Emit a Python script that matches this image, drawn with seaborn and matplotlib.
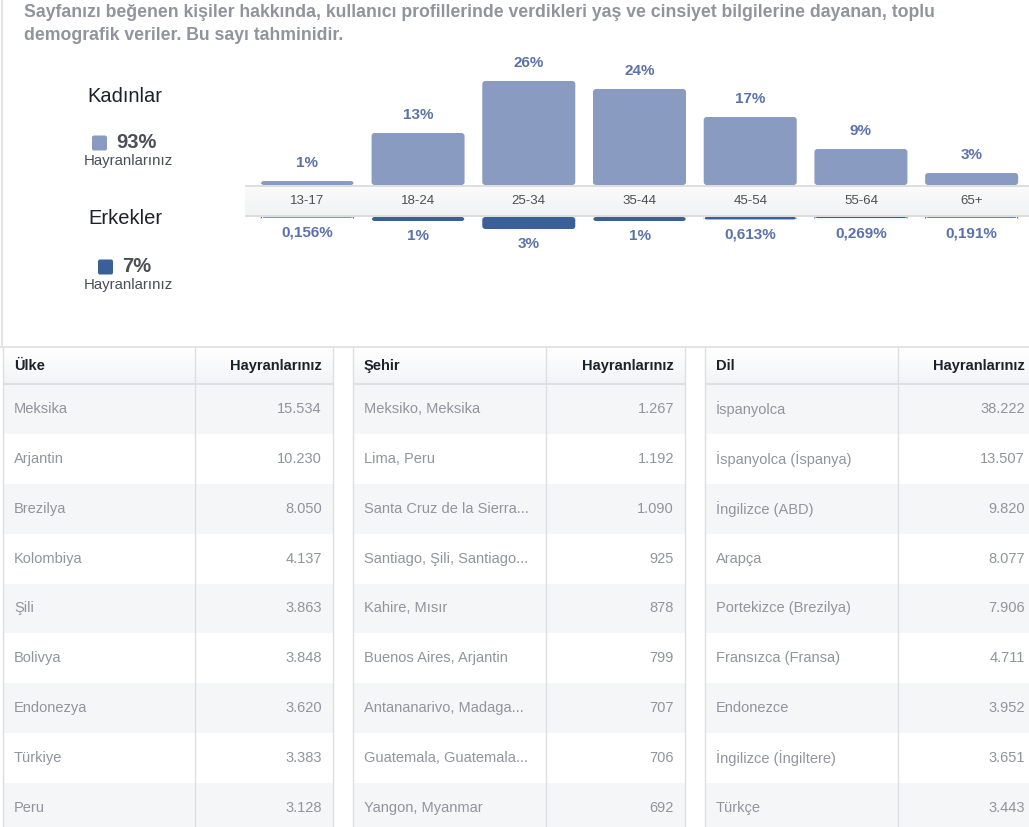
import numpy as np
import pandas as pd
import matplotlib
matplotlib.use('Agg')
import matplotlib.pyplot as plt
from matplotlib.patches import FancyBboxPatch
import seaborn as sns

# --- data ---
age_groups = ['13-17', '18-24', '25-34', '35-44', '45-54', '55-64', '65+']
female_pct = [1, 13, 26, 24, 17, 9, 3]
male_pct = [0.156, 1, 3, 1, 0.613, 0.269, 0.191]
female_total = '93%'
male_total = '7%'

countries = ['Meksika', 'Arjantin', 'Brezilya', 'Kolombiya', 'Şili', 'Bolivya',
             'Endonezya', 'Türkiye', 'Peru']
country_fans = [15534, 10230, 8050, 4137, 3863, 3848, 3620, 3383, 3128]

cities = ['Meksiko, Meksika', 'Lima, Peru', 'Santa Cruz de la Sierra...',
          'Santiago, Şili, Santiago...', 'Kahire, Mısır', 'Buenos Aires, Arjantin',
          'Antananarivo, Madaga...', 'Guatemala, Guatemala...', 'Yangon, Myanmar']
city_fans = [1267, 1192, 1090, 925, 878, 799, 707, 706, 692]

languages = ['İspanyolca', 'İspanyolca (İspanya)', 'İngilizce (ABD)', 'Arapça',
             'Portekizce (Brezilya)', 'Fransızca (Fransa)', 'Endonezce',
             'İngilizce (İngiltere)', 'Türkçe']
language_fans = [38222, 13507, 9820, 8077, 7906, 4711, 3952, 3651, 3443]

title = ('Sayfanızı beğenen kişiler hakkında, kullanıcı profillerinde verdikleri yaş ve cinsiyet bilgilerine dayanan, toplu\n'
         'demografik veriler. Bu sayı tahminidir.')

FEMALE = '#8a9bc1'
MALE = '#3b5f99'
LABEL = '#5a72a8'
DARK = '#1d2129'
MID = '#4b4f56'
GREY = '#90949c'
LINE = '#dddfe2'
ROW = '#f5f6f7'

W, H = 1029, 827

sns.set_style('white')
plt.rcParams['font.family'] = ['Liberation Sans', 'DejaVu Sans']

fig = plt.figure(figsize=(W / 100, H / 100), dpi=100)


def px_axes(x0, y0, x1, y1):
    """axes placed by pixel box (top-left origin)"""
    return fig.add_axes([x0 / W, 1 - y1 / H, (x1 - x0) / W, (y1 - y0) / H])


def pct_label(v):
    if v >= 1:
        return f'{v:.0f}%'
    return f'{v:.3f}%'.replace('.', ',')


def tr_num(v):
    return f'{v:,}'.replace(',', '.')


def round_bars(ax, px_x, px_y, r=3):
    """swap seaborn's rectangles for ones with slightly rounded corners"""
    for p in list(ax.patches):
        x, y, w, h = p.get_x(), p.get_y(), p.get_width(), p.get_height()
        fb = FancyBboxPatch((x, y), w, h, boxstyle=f'round,pad=0,rounding_size={r * px_x}',
                            mutation_aspect=px_y / px_x, color=p.get_facecolor(), lw=0)
        p.remove()
        ax.add_patch(fb)


# background canvas in pixel units
bg = fig.add_axes([0, 0, 1, 1])
bg.set_xlim(0, W)
bg.set_ylim(H, 0)
bg.axis('off')
bg.plot([2, 2], [0, 346], color=LINE, lw=1.2)
bg.plot([0, W], [347, 347], color=LINE, lw=1.2)
bg.text(24, 24, title, fontsize=12.7, fontweight='bold', color=GREY,
        va='center', linespacing=1.4)

# gender legend on the left
for y_head, y_sq, sq_x, name, total, col in [(97, 143, 92, 'Kadınlar', female_total, FEMALE),
                                             (219, 267, 98, 'Erkekler', male_total, MALE)]:
    bg.text(125, y_head, name, fontsize=14.5, color=DARK, ha='center', va='center')
    bg.add_patch(FancyBboxPatch((sq_x, y_sq - 7.5), 15, 15,
                                boxstyle='round,pad=0,rounding_size=2', color=col, lw=0))
    bg.text(sq_x + 24, y_sq - 1, total, fontsize=14.5, fontweight='bold', color=MID,
            ha='left', va='center')
    bg.text(128, y_sq + 18, 'Hayranlarınız', fontsize=10.8, color=MID,
            ha='center', va='center')

# --- age bars ---
pitch = 110.7
x_left, x_right = 252, 1027
scale = 4.0  # px per percent

ax_f = px_axes(x_left, 55, x_right, 185)
sns.barplot(x=age_groups, y=female_pct, color=FEMALE, saturation=1, width=0.84, ax=ax_f)
ax_f.set_ylim(0, 130 / scale)
ax_f.set_xlim(-0.5, 6.5)
round_bars(ax_f, 1 / pitch, 1 / scale)
for i, v in enumerate(female_pct):
    ax_f.annotate(pct_label(v), (i, v), xytext=(0, 8), textcoords='offset points',
                  ha='center', va='bottom', fontsize=11, fontweight='bold', color=LABEL)

ax_m = px_axes(x_left, 217, x_right, 262)
sns.barplot(x=age_groups, y=male_pct, color=MALE, saturation=1, width=0.84, ax=ax_m)
ax_m.set_ylim(45 / scale, 0)
ax_m.set_xlim(-0.5, 6.5)
round_bars(ax_m, 1 / pitch, 1 / scale)
for i, v in enumerate(male_pct):
    ax_m.annotate(pct_label(v), (i, v), xytext=(0, -6), textcoords='offset points',
                  ha='center', va='top', fontsize=11, fontweight='bold', color=LABEL)

for ax in (ax_f, ax_m):
    ax.axis('off')
    ax.patch.set_alpha(0)

# band with the age labels
ax_b = px_axes(245, 185, W, 217)
bx0 = -0.5 - (x_left - 245) / pitch
bx1 = 6.5 + (W - x_right) / pitch
grad = np.linspace(0, 1, 32).reshape(-1, 1)
ax_b.imshow(grad, extent=(bx0, bx1, 1, 0), aspect='auto',
            cmap=matplotlib.colors.LinearSegmentedColormap.from_list('band', ['#fbfbfb', '#f1f2f4']))
ax_b.set_xlim(bx0, bx1)
ax_b.set_ylim(1, 0)
ax_b.axhline(0.02, color='#d8d9db', lw=1.2)
ax_b.axhline(0.98, color='#d8d9db', lw=1.2)
for i, g in enumerate(age_groups):
    ax_b.text(i, 0.5, g, ha='center', va='center', fontsize=9.5, color=MID)
ax_b.axis('off')

# --- tables ---
hdr = 36 / 50
rows_shown = (H - 383) / 50
head_grad = matplotlib.colors.LinearSegmentedColormap.from_list('head', ['#ffffff', '#f3f4f6'])


def draw_table(x0, x1, divider, head, names, fans):
    ax = px_axes(x0, 348, x1, H)
    width = x1 - x0
    ax.imshow(np.linspace(0, 1, 20).reshape(-1, 1), extent=(0, width, 0, -hdr),
              aspect='auto', cmap=head_grad)
    for i in range(len(names)):
        ax.axhspan(i, i + 1, color=ROW if i % 2 == 0 else 'white', lw=0)
        ax.text(11, i + 0.5, names[i], ha='left', va='center', fontsize=10.5, color=GREY)
        ax.text(width - 11, i + 0.5, tr_num(fans[i]), ha='right', va='center',
                fontsize=10.5, color=GREY)
    ax.text(11, -hdr / 2, head, ha='left', va='center', fontsize=10.5,
            fontweight='bold', color=DARK)
    ax.text(width - 11, -hdr / 2, 'Hayranlarınız', ha='right', va='center',
            fontsize=10.5, fontweight='bold', color=DARK)
    ax.axhline(0, color=LINE, lw=1.5)
    ax.axvline(divider - x0, color=LINE, lw=1)
    ax.set_xlim(0, width)
    ax.set_ylim(rows_shown, -hdr)
    for side in ('top', 'bottom'):
        ax.spines[side].set_visible(False)
    for side in ('left', 'right'):
        ax.spines[side].set_color(LINE)
        ax.spines[side].set_linewidth(1)
    ax.set_xticks([])
    ax.set_yticks([])


draw_table(3, 333, 195, 'Ülke', countries, country_fans)
draw_table(353, 685, 546, 'Şehir', cities, city_fans)
draw_table(705, 1036, 898, 'Dil', languages, language_fans)

fig.savefig('out.png', dpi=100)
